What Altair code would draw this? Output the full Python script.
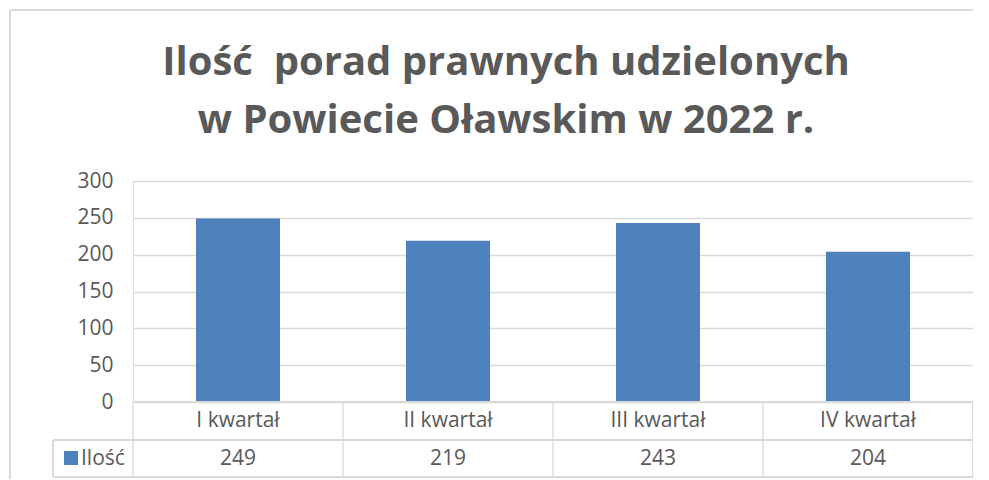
import altair as alt
import pandas as pd

categories = ["I kwartał", "II kwartał", "III kwartał", "IV kwartał"]
values = [249, 219, 243, 204]
series_name = "Ilość"
title_lines = ["Ilość\u00a0 porad prawnych udzielonych", "w Powiecie Oławskim w 2022 r."]
y_ticks = [0, 50, 100, 150, 200, 250, 300]

df = pd.DataFrame({"cat": categories, "val": values})

FONT = "Open Sans, sans-serif"
TXT = "#595959"
GRID = "#D9D9D9"
BAR = "#4F81BD"
FS = 21

W, H = 840, 221
ROW1_TOP, ROW2_TOP, ROW2_BOT = 221, 259, 296

xs = alt.Scale(domain=categories, paddingInner=0, paddingOuter=0)
ys = alt.Scale(domain=[0, 300])

base = alt.Chart(df)

bars = base.mark_bar(color=BAR, width={"band": 0.4}).encode(
    x=alt.X("cat:N", scale=xs, axis=None, sort=categories),
    y=alt.Y("val:Q", scale=ys, axis=alt.Axis(
        values=y_ticks, grid=True, gridColor=GRID, gridWidth=1.3, domain=False, ticks=False,
        labelFont=FONT, labelFontSize=FS, labelColor=TXT, labelPadding=20, title=None)),
)

# data table lines
vlines = base.mark_rule(color=GRID, strokeWidth=1.3).encode(
    x=alt.X("cat:N", scale=xs, sort=categories, bandPosition=0),
    y=alt.value(ROW1_TOP), y2=alt.value(ROW2_BOT),
)
vright = base.mark_rule(color=GRID, strokeWidth=1.3).encode(
    x=alt.value(W), y=alt.value(ROW1_TOP), y2=alt.value(ROW2_BOT))
vleft = base.mark_rule(color=GRID, strokeWidth=1.3).encode(
    x=alt.value(-80), y=alt.value(ROW2_TOP), y2=alt.value(ROW2_BOT))
h1 = base.mark_rule(color=GRID, strokeWidth=1.3).encode(
    x=alt.value(0), x2=alt.value(W), y=alt.value(ROW1_TOP))
h2 = base.mark_rule(color=GRID, strokeWidth=1.3).encode(
    x=alt.value(-80), x2=alt.value(W), y=alt.value(ROW2_TOP))
h3 = base.mark_rule(color=GRID, strokeWidth=1.3).encode(
    x=alt.value(-80), x2=alt.value(W), y=alt.value(ROW2_BOT))

cat_text = base.mark_text(font=FONT, fontSize=FS, color=TXT, baseline="middle").encode(
    x=alt.X("cat:N", scale=xs, sort=categories, bandPosition=0.5),
    y=alt.value((ROW1_TOP + ROW2_TOP) / 2), text="cat:N")
val_text = base.mark_text(font=FONT, fontSize=FS, color=TXT, baseline="middle").encode(
    x=alt.X("cat:N", scale=xs, sort=categories, bandPosition=0.5),
    y=alt.value((ROW2_TOP + ROW2_BOT) / 2), text="val:Q")

legend_sq = alt.Chart(pd.DataFrame({"s": [series_name]})).mark_square(
    color=BAR, size=196, opacity=1).encode(x=alt.value(-62), y=alt.value(277))
legend_txt = alt.Chart(pd.DataFrame({"s": [series_name]})).mark_text(
    font=FONT, fontSize=FS, color=TXT, align="left", baseline="middle").encode(
    x=alt.value(-52), y=alt.value(277.5), text="s:N")

title_df = pd.DataFrame({"t": title_lines, "yy": [-106, -48]})
title = alt.Chart(title_df).mark_text(
    font=FONT, fontSize=40, fontWeight="bold", color=TXT, align="center", baseline="alphabetic").encode(
    x=alt.value(373), y=alt.Y("yy:Q", scale=None), text="t:N")

border_top = base.mark_rule(color=GRID, strokeWidth=1.3).encode(
    x=alt.value(-123), x2=alt.value(W + 40), y=alt.value(-171))
border_left = base.mark_rule(color=GRID, strokeWidth=1.3).encode(
    x=alt.value(-123), y=alt.value(-171), y2=alt.value(H + 100))

chart = alt.layer(
    border_top, border_left, bars, vlines, vright, vleft, h1, h2, h3,
    cat_text, val_text, legend_sq, legend_txt, title
).properties(
    width=W, height=H,
    autosize=alt.AutoSizeParams(type="none"),
    padding={"left": 125, "top": 173, "right": 0, "bottom": 77},
).configure_view(stroke=None).configure(background="white")

chart.save("out.html", embed_options={"renderer": "svg", "actions": False})
